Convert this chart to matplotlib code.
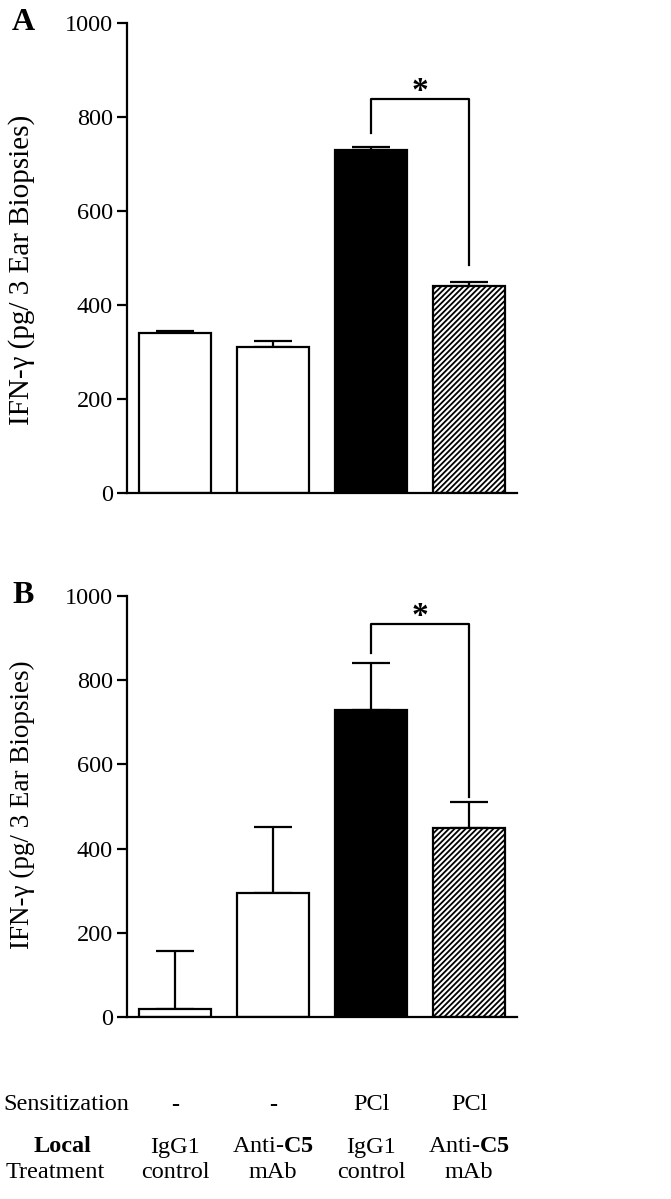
import matplotlib.pyplot as plt
import matplotlib.transforms as mtransforms
import numpy as np

plt.rcParams['font.family'] = ['Liberation Serif', 'DejaVu Serif']
plt.rcParams['mathtext.fontset'] = 'custom'
plt.rcParams['mathtext.rm'] = 'Liberation Serif'
plt.rcParams['mathtext.bf'] = 'Liberation Serif:bold'
plt.rcParams['hatch.linewidth'] = 1.3

# data
sensitization = ['-', '-', 'PCl', 'PCl']
treat_top = ['IgG1', r'Anti-$\mathbf{C5}$', 'IgG1', r'Anti-$\mathbf{C5}$']
treat_bottom = ['control', 'mAb', 'control', 'mAb']
a_means = [340, 310, 730, 440]
a_err = [5, 13, 5, 9]
b_means = [20, 295, 730, 450]
b_err = [137, 157, 110, 60]
# bracket: left foot, top, right foot, star height
a_bracket = [765, 837, 485, 862]
b_bracket = [865, 932, 523, 960]

colors = ['white', 'white', 'black', 'white']
hatches = ['', '', '', '//////']
yticks = [0, 200, 400, 600, 800, 1000]

fig = plt.figure(figsize=(6.71, 11.99), dpi=100)
W, H = 671, 1199
ax_a = fig.add_axes([127 / W, 1 - 493.3 / H, 390 / W, 470.6 / H])
ax_b = fig.add_axes([127 / W, 1 - 1017.3 / H, 390 / W, 421.6 / H])

x = np.arange(4)


def draw_panel(ax, means, errs, bracket, letter, lab_size, lab_y):
    ax.bar(x, means, width=0.735, color=colors, edgecolor='black',
           linewidth=1.6, hatch=hatches, zorder=2)
    ax.errorbar(x, means, yerr=[np.zeros(4), errs], fmt='none',
                ecolor='black', elinewidth=1.6, capsize=13.5, capthick=1.6,
                zorder=1)
    ax.set_xlim(-0.49, 3.49)
    ax.set_ylim(0, 1000)
    ax.set_yticks(yticks)
    ax.set_xticks([])
    for s in ['top', 'right']:
        ax.spines[s].set_visible(False)
    for s in ['left', 'bottom']:
        ax.spines[s].set_linewidth(1.6)
    ax.tick_params(axis='y', length=7, width=1.6, labelsize=17.5, pad=3)
    ax.set_ylabel('IFN-γ (pg/ 3 Ear Biopsies)', fontsize=lab_size)
    ax.yaxis.set_label_coords(-0.235, lab_y)
    # significance bracket
    ax.plot([2, 2, 3, 3], [bracket[0], bracket[1], bracket[1], bracket[2]],
            color='black', linewidth=1.6, clip_on=False)
    ax.text(2.5, bracket[3], '*', ha='center', va='center_baseline',
            fontsize=24, fontweight='bold')
    ax.text(-0.295, 1.0, letter, transform=ax.transAxes, fontsize=23,
            fontweight='bold', ha='left', va='center')


draw_panel(ax_a, a_means, a_err, a_bracket, 'A', 21, 0.475)
draw_panel(ax_b, b_means, b_err, b_bracket, 'B', 19.5, 0.505)

# table of conditions under panel B
trans = mtransforms.blended_transform_factory(ax_b.transData, fig.transFigure)
fs = 17.5
fig.text(3 / W, 1 - 1105 / H, 'Sensitization', fontsize=fs, ha='left', va='center')
fig.text(62 / W, 1 - 1147 / H, 'Local', fontsize=fs, fontweight='bold',
         ha='center', va='center')
fig.text(55 / W, 1 - 1172 / H, 'Treatment', fontsize=fs, ha='center', va='center')
for i in range(4):
    ax_b.text(x[i], 1 - 1105 / H, sensitization[i], transform=trans, fontsize=fs,
              ha='center', va='center',
              fontweight='bold' if sensitization[i] == '-' else 'normal')
    ax_b.text(x[i], 1 - 1147 / H, treat_top[i], transform=trans, fontsize=fs,
              ha='center', va='center')
    ax_b.text(x[i], 1 - 1172 / H, treat_bottom[i], transform=trans, fontsize=fs,
              ha='center', va='center')

fig.savefig('out.png', dpi=100)
